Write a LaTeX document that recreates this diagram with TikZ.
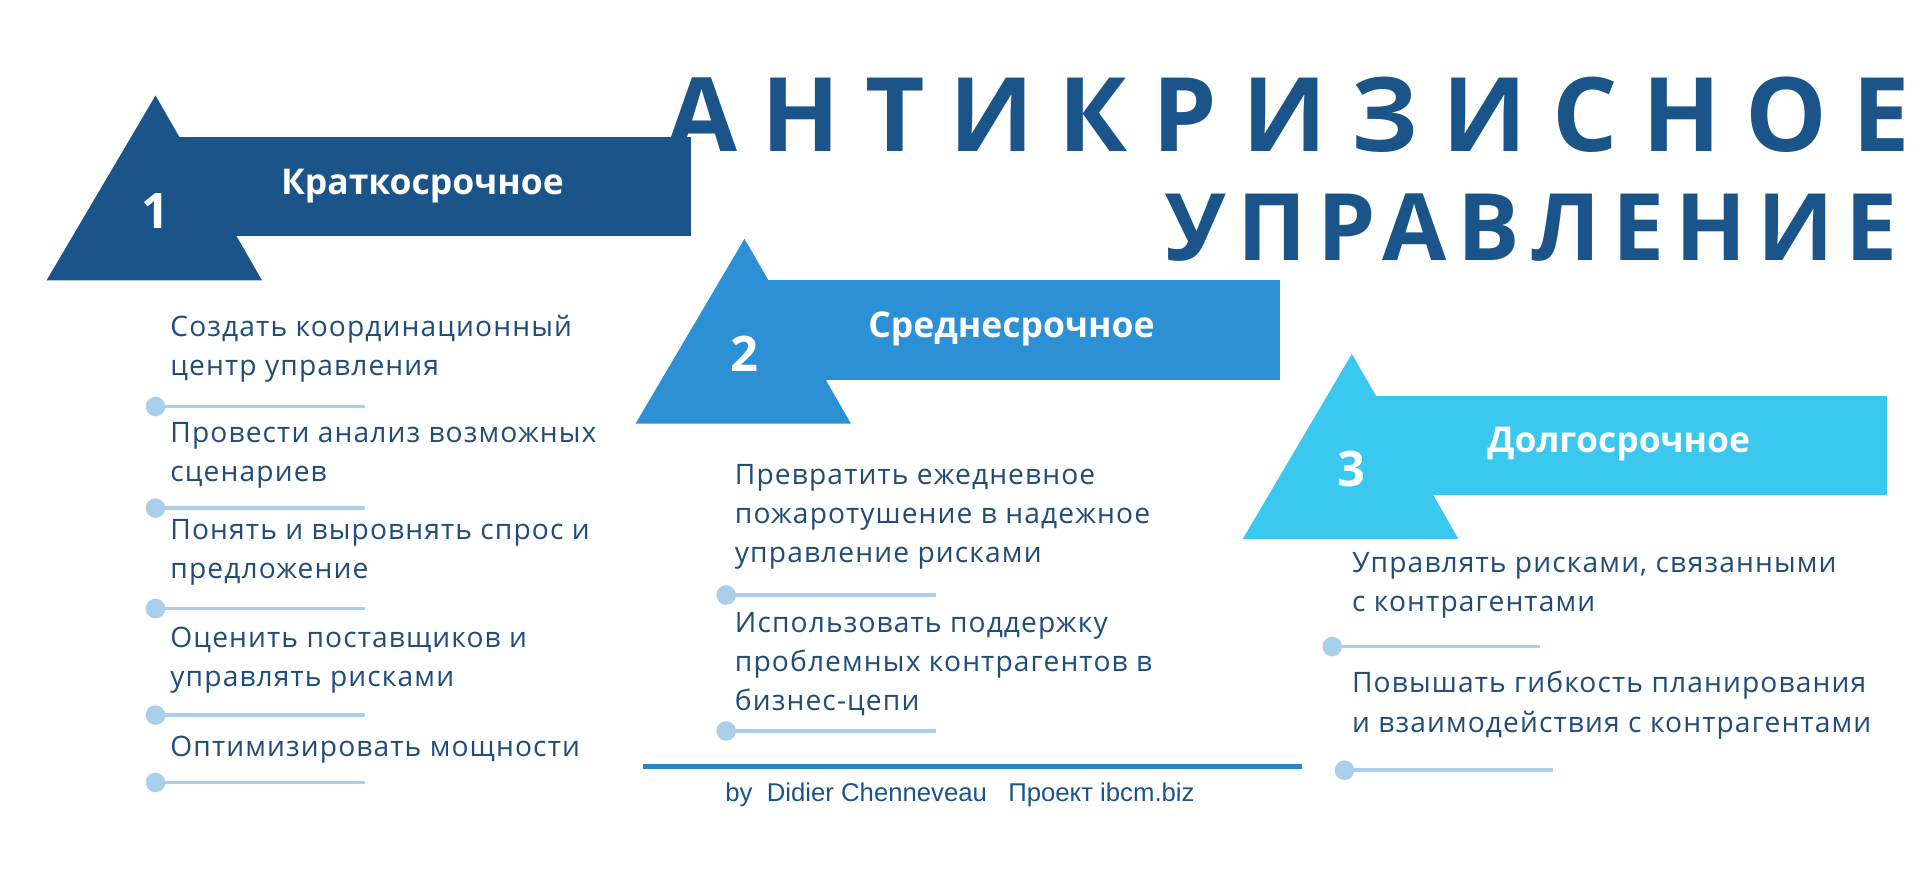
\documentclass[tikz,border=0pt]{standalone}
\usepackage{fontspec}
\setmainfont{Open Sans}
\newfontfamily\footfont{Liberation Sans}
\usetikzlibrary{calc}
\definecolor{dark}{HTML}{1A5489}
\definecolor{mid}{HTML}{2E90D4}
\definecolor{light}{HTML}{3AC8EE}
\definecolor{itemtext}{HTML}{1F4C78}
\definecolor{dotline}{HTML}{A9CFEA}
\tikzset{
	item/.style={anchor=north west,inner sep=0pt,align=left,text=itemtext,font=\addfontfeature{LetterSpace=4}\fontsize{23}{32}\selectfont},
	head/.style={text=white,font=\bfseries\fontsize{29}{32}\selectfont},
	num/.style={text=white,font=\bfseries\fontsize{40}{40}\selectfont},
	marker/.style={circle,fill=dotline,inner sep=0pt,minimum size=16pt}
}
\begin{document}
\begin{tikzpicture}[x=1pt,y=-1pt]
	\useasboundingbox (0,0) rectangle (1568,713);
	% arrows
	\foreach \n/\x/\y/\c/\txt in {1/127/78/dark/Краткосрочное,2/608/195/mid/Среднесрочное,3/1104/289/light/Долгосрочное} {
		\fill[\c] (\x-89,\y+151) -- (\x,\y) -- (\x+87,\y+151) -- cycle;
		\fill[\c] (\x,\y+34) rectangle (\x+437,\y+115);
		\node[num] (n\n) at (\x,\y+94) {\n};
		\node[head] (h\n) at (\x+218,\y+74) {\txt};
	};
	% title
	\node[anchor=east,inner sep=0pt,text=dark,font=\bfseries\addfontfeature{LetterSpace=24}\fontsize{84}{84}\selectfont] (title1) at (1560,94) {АНТИКРИЗИСНОЕ};
	\node[anchor=east,inner sep=0pt,text=dark,font=\bfseries\addfontfeature{LetterSpace=12}\fontsize{76}{76}\selectfont] (title2) at (1550,186) {УПРАВЛЕНИЕ};
	% items
	\foreach \i/\x/\y/\txt in {a/139/257/{Создать координационный\\центр управления},b/139/345/{Провести анализ возможных\\сценариев},c/139/424/{Понять и выровнять спрос и\\предложение},d/139/512/{Оценить поставщиков и\\управлять рисками},e/139/601/{Оптимизировать мощности},f/600/379/{Превратить ежедневное\\пожаротушение в надежное\\управление рисками},g/600/500/{Использовать поддержку\\проблемных контрагентов в\\бизнес-цепи},h/1104/451/{Управлять рисками, связанными\\с контрагентами},k/1104/548/{Повышать гибкость планирования\\и взаимодействия с контрагентами}}
		\node[item] (t\i) at (\x,\y) {\txt};
	\foreach \i/\x/\y/\len in {a/127/332/171,b/127/415/171,c/127/497/171,d/127/584/171,e/127/639/171,f/593/486/171,g/593/597/171,h/1088/528/170,k/1098/629/170} {
		\node[marker] (m\i) at (\x,\y) {};
		\draw[dotline,line width=3pt] (m\i.center) -- ++(\len,0);
	};
	% footer
	\coordinate (fl) at (525,626);
	\coordinate (fr) at (1063,626);
	\draw[mid!80!dark,line width=3.5pt] (fl) -- (fr);
	\node[text=dark,font=\footfont\fontsize{21}{24}\selectfont] (foot) at (784,649) {by\ \ Didier Chenneveau\ \ \ Проект ibcm.biz};
\end{tikzpicture}
\end{document}
